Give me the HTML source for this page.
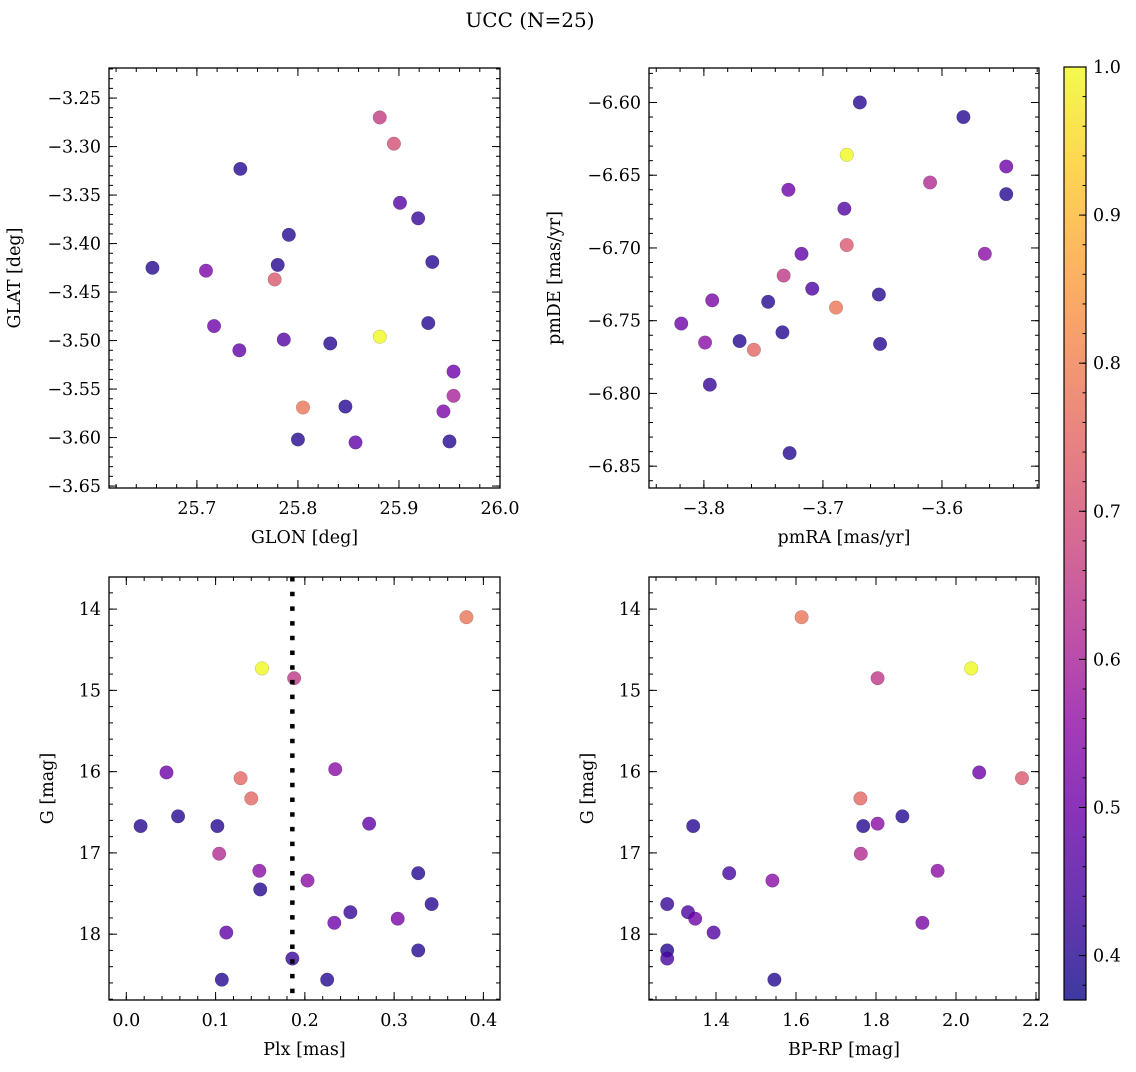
<!DOCTYPE html>
<html><head><meta charset="utf-8"><style>
body{margin:0;background:#fff;}
svg text{font-family:"DejaVu Serif","Liberation Serif",serif;fill:#000;}
</style></head><body>
<svg id="fig" width="1136" height="1067" viewBox="0 0 1136 1067" xmlns="http://www.w3.org/2000/svg">
<defs>
<linearGradient id="plasma" x1="0" y1="1" x2="0" y2="0">
<stop offset="0" stop-color="#0d0887"/><stop offset="0.1" stop-color="#41049d"/><stop offset="0.2" stop-color="#6a00a8"/><stop offset="0.3" stop-color="#8f0da4"/><stop offset="0.4" stop-color="#b12a90"/><stop offset="0.5" stop-color="#cc4778"/><stop offset="0.6" stop-color="#e16462"/><stop offset="0.7" stop-color="#f2844b"/><stop offset="0.8" stop-color="#fca636"/><stop offset="0.9" stop-color="#fcce25"/><stop offset="1" stop-color="#f0f921"/>
</linearGradient>
</defs>
<text x="530" y="27" font-size="20" text-anchor="middle">UCC (N=25)</text>
</svg>
<script>
// ---- data ----
const glon = [25.656,25.709,25.717,25.742,25.743,25.777,25.780,25.786,25.791,25.800,25.805,25.832,25.847,25.857,25.881,25.881,25.895,25.901,25.919,25.929,25.933,25.944,25.950,25.954,25.954];
const glat = [-3.425,-3.428,-3.485,-3.510,-3.323,-3.437,-3.422,-3.499,-3.391,-3.602,-3.569,-3.503,-3.568,-3.605,-3.496,-3.270,-3.297,-3.358,-3.374,-3.482,-3.419,-3.573,-3.604,-3.532,-3.557];
const probA = [0.40,0.52,0.50,0.48,0.40,0.72,0.40,0.46,0.40,0.40,0.78,0.40,0.40,0.48,1.0,0.66,0.70,0.46,0.42,0.40,0.40,0.52,0.40,0.50,0.60];

const pmra = [-3.669,-3.582,-3.680,-3.546,-3.610,-3.546,-3.729,-3.682,-3.680,-3.564,-3.718,-3.733,-3.709,-3.653,-3.793,-3.746,-3.689,-3.819,-3.734,-3.799,-3.770,-3.758,-3.652,-3.795,-3.728];
const pmde = [-6.600,-6.610,-6.636,-6.644,-6.655,-6.663,-6.660,-6.673,-6.698,-6.704,-6.704,-6.719,-6.728,-6.732,-6.736,-6.737,-6.741,-6.752,-6.758,-6.765,-6.764,-6.770,-6.766,-6.794,-6.841];
const probB = [0.40,0.40,1.0,0.50,0.62,0.40,0.50,0.46,0.72,0.55,0.48,0.65,0.45,0.40,0.52,0.40,0.78,0.50,0.40,0.55,0.40,0.75,0.40,0.42,0.40];

const plx = [0.381,0.152,0.188,0.045,0.128,0.140,0.234,0.016,0.058,0.102,0.272,0.104,0.149,0.150,0.203,0.327,0.342,0.251,0.233,0.304,0.112,0.327,0.186,0.107,0.225];
const gmagC = [14.10,14.73,14.85,16.01,16.08,16.33,15.97,16.67,16.55,16.67,16.64,17.01,17.22,17.45,17.34,17.25,17.63,17.73,17.86,17.81,17.98,18.20,18.30,18.56,18.56];
const probC = [0.78,1.0,0.65,0.50,0.75,0.75,0.55,0.40,0.40,0.40,0.48,0.62,0.55,0.40,0.55,0.40,0.40,0.42,0.50,0.52,0.48,0.40,0.42,0.40,0.40];
const plxLine = [0.186];

const bprp = [1.614,2.038,1.804,2.058,2.165,1.761,1.866,1.768,1.804,1.343,1.762,1.954,1.433,1.541,1.278,1.330,1.348,1.916,1.394,1.278,1.278,1.546];
const gmagD = [14.10,14.73,14.85,16.01,16.08,16.33,16.55,16.67,16.64,16.67,17.01,17.22,17.25,17.34,17.63,17.73,17.81,17.86,17.98,18.20,18.30,18.56];
const probD = [0.78,1.0,0.65,0.50,0.72,0.75,0.40,0.40,0.55,0.40,0.62,0.55,0.44,0.55,0.42,0.45,0.50,0.52,0.46,0.40,0.44,0.40];

const ticksA_x = [25.7,25.8,25.9,26.0], ticksA_y = [-3.25,-3.30,-3.35,-3.40,-3.45,-3.50,-3.55,-3.60,-3.65];
const ticksB_x = [-3.8,-3.7,-3.6], ticksB_y = [-6.60,-6.65,-6.70,-6.75,-6.80,-6.85];
const ticksC_x = [0.0,0.1,0.2,0.3,0.4], ticksG = [14,15,16,17,18];
const ticksD_x = [1.4,1.6,1.8,2.0,2.2];
const cbTicks = [0.4,0.5,0.6,0.7,0.8,0.9,1.0];
const cMin = 0.37, cMax = 1.0;

// ---- helpers ----
const NS = "http://www.w3.org/2000/svg";
const FS = 17.5;
const fig = document.getElementById('fig');
function mk(tag, attrs, parent){const e=document.createElementNS(NS,tag);for(const k in attrs)e.setAttribute(k,attrs[k]);(parent||fig).appendChild(e);return e;}
const stops=[[13,8,135],[65,4,157],[106,0,168],[143,13,164],[177,42,144],[204,71,120],[225,100,98],[242,132,75],[252,166,54],[252,206,37],[240,249,33]];
function plasma(v){let t=(v-cMin)/(cMax-cMin);t=Math.max(0,Math.min(1,t))*10;const i=Math.min(9,Math.floor(t)),f=t-i;const a=stops[i],b=stops[i+1];return `rgb(${a.map((c,k)=>Math.round(c+(b[k]-c)*f)).join(',')})`;}
function fmt(v,d){return (v<0?'\u2212':'')+Math.abs(v).toFixed(d);}

function panel(name,box,xr,yr,xt,yt,xminor,yminor,xd,yd,xs,ys,ps,xlabel,ylabel,yinv){
  const [L,T,R,B]=box;
  const X=v=>L+(v-xr[0])/(xr[1]-xr[0])*(R-L);
  const Y=yinv? v=>T+(v-yr[0])/(yr[1]-yr[0])*(B-T) : v=>B-(v-yr[0])/(yr[1]-yr[0])*(B-T);
  const g=mk('g',{});
  
  
  const cp='clip-'+name;
  const cl=mk('clipPath',{id:cp},g);mk('rect',{x:L,y:T,width:R-L,height:B-T},cl);
  const pts=mk('g',{'clip-path':`url(#${cp})`},g);
  
  
  for(let i=0;i<xs.length;i++){
    const c=mk('circle',{cx:X(xs[i]),cy:Y(ys[i]),r:6.8,fill:plasma(ps[i]),'fill-opacity':0.8,stroke:'rgba(0,0,0,0.25)','stroke-width':0.5},pts);
    
    
  }
  const tk=mk('g',{stroke:'#000','stroke-width':1},g);
  function xTick(v,len){const x=X(v);if(x<L-0.5||x>R+0.5)return;mk('line',{x1:x,y1:B,x2:x,y2:B-len},tk);mk('line',{x1:x,y1:T,x2:x,y2:T+len},tk);}
  function yTick(v,len){const y=Y(v);if(y<T-0.5||y>B+0.5)return;mk('line',{x1:L,y1:y,x2:L+len,y2:y},tk);mk('line',{x1:R,y1:y,x2:R-len,y2:y},tk);}
  const x0=Math.ceil(Math.min(...xr)/xminor-1e-6),x1=Math.floor(Math.max(...xr)/xminor+1e-6);
  for(let k=x0;k<=x1;k++)xTick(k*xminor,4);
  const y0=Math.ceil(Math.min(...yr)/yminor-1e-6),y1=Math.floor(Math.max(...yr)/yminor+1e-6);
  for(let k=y0;k<=y1;k++)yTick(k*yminor,4);
  xt.forEach(v=>{xTick(v,8);const t=mk('text',{x:X(v),y:B+26,'font-size':FS,'text-anchor':'middle'},g);t.textContent=fmt(v,xd);});
  yt.forEach(v=>{yTick(v,8);const t=mk('text',{x:L-8,y:Y(v)+6,'font-size':FS,'text-anchor':'end'},g);t.textContent=fmt(v,yd);});
  mk('rect',{x:L,y:T,width:R-L,height:B-T,fill:'none',stroke:'#000','stroke-width':1.3},g);
  const xl=mk('text',{x:(L+R)/2,y:B+55,'font-size':FS,'text-anchor':'middle'},g);xl.textContent=xlabel;
  
  
  const yx=L-(name==='panel-glon-glat'||name==='panel-pmra-pmde'?89:56);
  const yl=mk('text',{x:yx,y:(T+B)/2,'font-size':FS,'text-anchor':'middle',transform:`rotate(-90 ${yx} ${(T+B)/2})`},g);yl.textContent=ylabel;
  
  
  return {X,Y,g,cp};
}

panel('panel-glon-glat',[109,68,500,488],[25.613,26.0],[-3.652,-3.219],ticksA_x,ticksA_y,0.02,0.01,1,2,glon,glat,probA,'GLON [deg]','GLAT [deg]',false);
panel('panel-pmra-pmde',[649,68,1039,488],[-3.8461,-3.5185],[-6.8650,-6.5763],ticksB_x,ticksB_y,0.02,0.01,1,2,pmra,pmde,probB,'pmRA [mas/yr]','pmDE [mas/yr]',false);
const pC=panel('panel-plx-g',[109,577,500,1000],[-0.0194,0.4186],[13.605,18.81],ticksC_x,ticksG,0.02,0.2,1,0,plx,gmagC,probC,'Plx [mas]','G [mag]',true);
panel('panel-bprp-g',[649,577,1039,1000],[1.2325,2.2075],[13.605,18.81],ticksD_x,ticksG,0.05,0.2,1,0,bprp,gmagD,probD,'BP-RP [mag]','G [mag]',true);

plxLine.forEach(v=>{
  const ln=mk('line',{x1:pC.X(v),y1:577,x2:pC.X(v),y2:1000,stroke:'#000','stroke-width':4.5,'stroke-dasharray':'4.5 10.2'},pC.g);
  
  
});

const cbL=1064,cbR=1086,cbT=67,cbB=1000;
const cb=mk('g',{});


mk('rect',{x:cbL,y:cbT,width:cbR-cbL,height:cbB-cbT,fill:'url(#plasma)','fill-opacity':0.8},cb);
const CY=v=>cbB-(v-cMin)/(cMax-cMin)*(cbB-cbT);
for(let k=19;k<=50;k++){const v=k*0.02;if(v<cMin||v>cMax+1e-9)continue;mk('line',{x1:cbR,y1:CY(v),x2:cbR-3.5,y2:CY(v),stroke:'#000','stroke-width':1},cb);}
cbTicks.forEach(v=>{mk('line',{x1:cbR,y1:CY(v),x2:cbR-7,y2:CY(v),stroke:'#000','stroke-width':1},cb);
  const t=mk('text',{x:cbR+7,y:CY(v)+6,'font-size':FS},cb);t.textContent=v.toFixed(1);
  
  });
mk('rect',{x:cbL,y:cbT,width:cbR-cbL,height:cbB-cbT,fill:'none',stroke:'#000','stroke-width':1.2},cb);
</script>
</body></html>
